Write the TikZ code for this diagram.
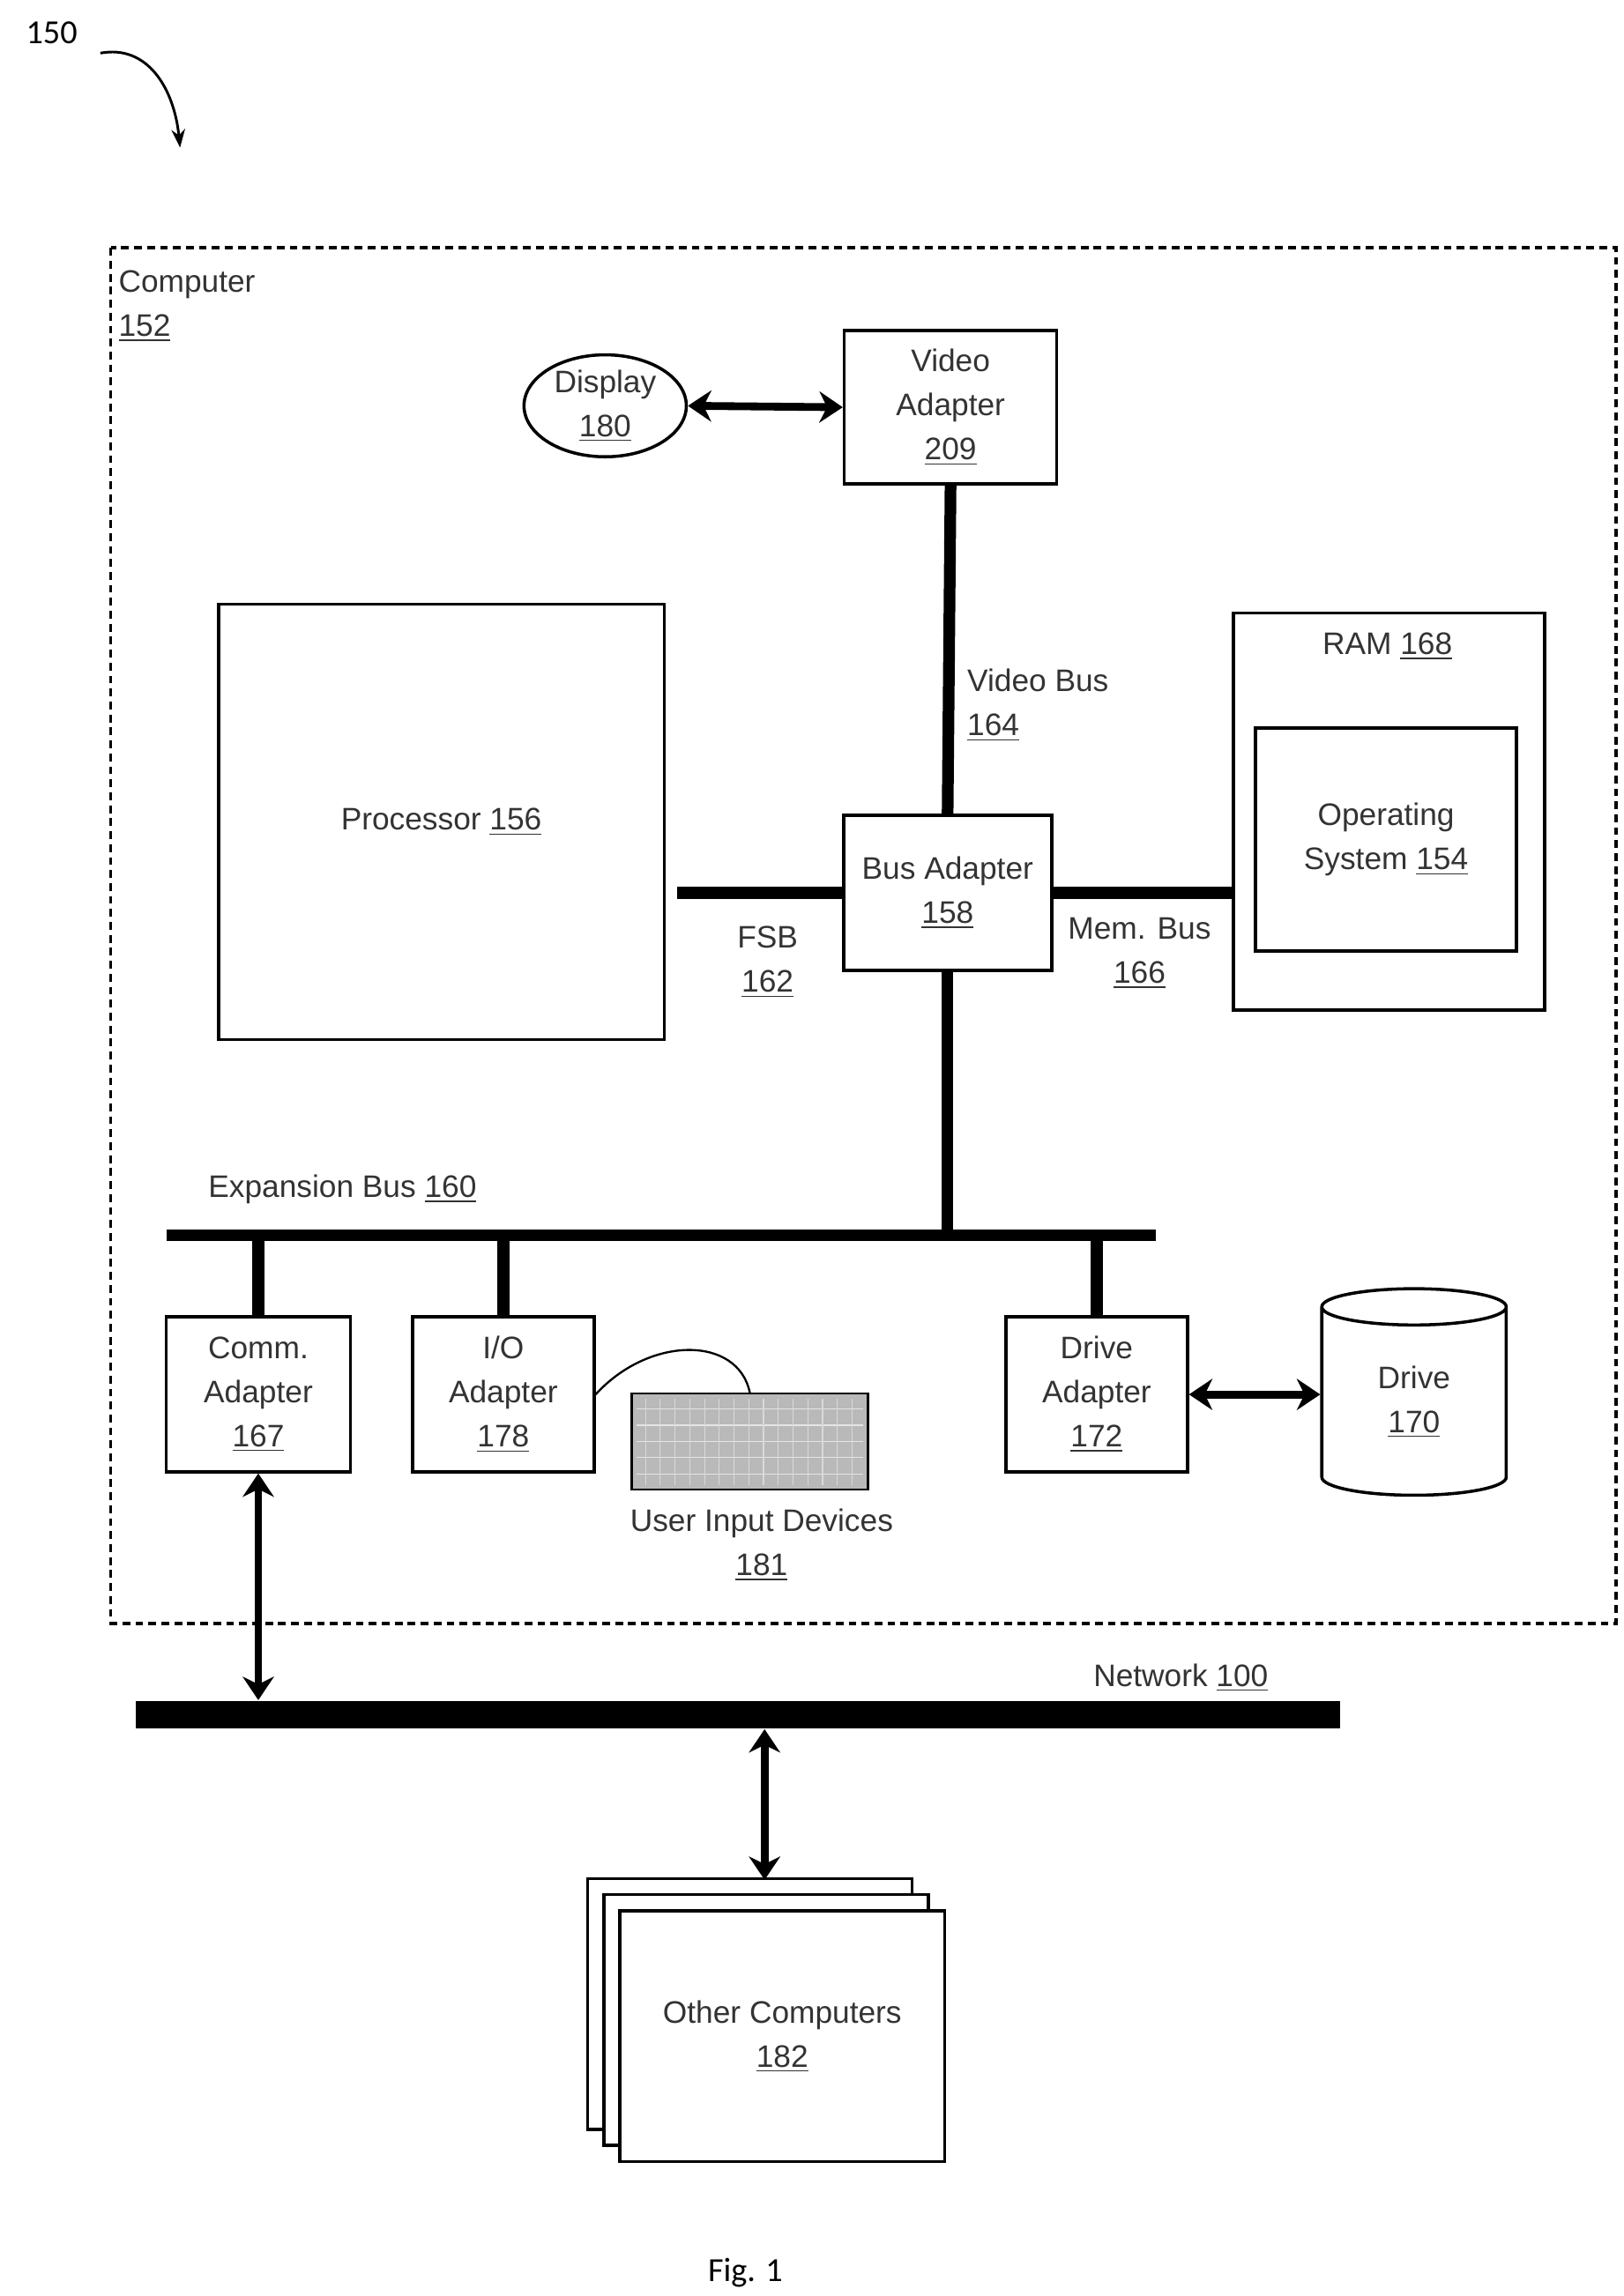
\documentclass[tikz,border=0pt]{standalone}
\usepackage{fontspec}
\setmainfont{Liberation Sans}
\newfontfamily\figfont{Carlito}
\usetikzlibrary{arrows.meta,shapes.geometric,calc}
\tikzset{
    box/.style = {
        draw, line width=1.2pt, align=center, inner sep=0pt,
        },
    bus/.style = {
        line width=4.5pt,
        },
    dbl/.style = {
        line width=3pt, {Stealth[length=9pt,width=12pt]}-{Stealth[length=9pt,width=12pt]},
        },
    lbl/.style = {
        align=center, inner sep=0pt,
        },
    every node/.style = {
        font=\fontsize{12}{17}\selectfont, text=black!80,
        }
}
\begin{document}
\begin{tikzpicture}[x=0.02cm,y=-0.02cm]
            \useasboundingbox (0,0) rectangle (1100,1556);
            % top reference
            \node[lbl, text=black, font=\figfont\fontsize{13}{15}\selectfont] (ref) at (35,22) {150};
            \draw[line width=1pt,-{Stealth[length=7pt]}] (68,36) .. controls (100,30) and (118,60) .. (122,100);

            % computer frame
            \draw[line width=1.3pt, dashed, dash pattern=on 3pt off 2pt] (75,168) rectangle (1095,1100);
            \node[lbl, anchor=north west, align=left] (computer) at (80,183) {Computer\\\underline{152}};

            \node[box, ellipse, minimum width=2.2cm, minimum height=1.35cm] (display) at (410,275) {Display\\\underline{180}};
            \node[box, minimum width=2.88cm, minimum height=2.08cm] (video) at (644,276) {Video\\Adapter\\\underline{209}};
            \node[box, minimum width=6.04cm, minimum height=5.9cm] (proc) at (299,557) {Processor \underline{156}};
            \node[box, minimum width=2.82cm, minimum height=2.1cm] (busad) at (642,605) {Bus Adapter\\\underline{158}};
            \node[box, minimum width=4.22cm, minimum height=5.38cm] (ram) at (941,550) {};
            \node[lbl] (ramlbl) at (940,438) {RAM \underline{168}};
            \node[box, minimum width=3.54cm, minimum height=3.02cm] (os) at (939,569) {Operating\\System \underline{154}};

            \node[box, minimum width=2.5cm, minimum height=2.1cm] (comm) at (175,945) {Comm.\\Adapter\\\underline{167}};
            \node[box, minimum width=2.46cm, minimum height=2.1cm] (io) at (341,945) {I/O\\Adapter\\\underline{178}};
            \node[box, minimum width=2.46cm, minimum height=2.1cm] (drivead) at (743,945) {Drive\\Adapter\\\underline{172}};
            \node[box, cylinder, shape border rotate=90, aspect=0.5, minimum width=2.5cm, minimum height=2.8cm] (drive) at (958,950) {Drive\\\underline{170}};

            % keyboard
            \node[draw, fill=gray!55, line width=0.8pt, minimum width=3.2cm, minimum height=1.3cm, inner sep=0pt] (kbd) at (508,977) {};
            \foreach \i in {1,...,5}
                \draw[gray!20] ($(kbd.north west)+(4,\i*11)$) -- ($(kbd.north east)+(-4,\i*11)$);
            \foreach \j in {1,...,15}
                \draw[gray!30] ($(kbd.north west)+(\j*10,4)$) -- ($(kbd.south west)+(\j*10,-4)$);
            \draw[line width=0.8pt] (io.east) .. controls (440,905) and (500,905) .. (kbd.north);
            \node[lbl] (uid) at (516,1047) {User Input Devices\\\underline{181}};

            % buses
            \coordinate (expL) at (113,837);
            \coordinate (expR) at (783,837);
            \draw[bus] (expL) -- (expR);
            \node[lbl] (explbl) at (232,806) {Expansion Bus \underline{160}};
            \draw[bus] (video.south) -- (busad.north);
            \node[lbl, anchor=west, align=left] (vblbl) at (655,478) {Video Bus\\\underline{164}};
            \draw[bus] (proc.east |- busad.west) ++(8,0) -- (busad.west);
            \node[lbl] (fsblbl) at (520,652) {FSB\\\underline{162}};
            \draw[bus] (busad.east) -- (busad.east -| ram.west);
            \node[lbl] (mblbl) at (772,646) {Mem. Bus\\\underline{166}};
            \draw[bus] (busad.south) -- (busad.south |- expL);
            \draw[bus] (comm.north) -- (comm.north |- expL);
            \draw[bus] (io.north) -- (io.north |- expL);
            \draw[bus] (drivead.north) -- (drivead.north |- expL);

            \draw[dbl] (display.east) -- (video.west);
            \draw[dbl] (drivead.east) -- (drivead.east -| drive.west);

            % network
            \node[fill=black, minimum width=16.32cm, minimum height=0.38cm, inner sep=0pt] (net) at (500,1162) {};
            \node[lbl] (netlbl) at (800,1137) {Network \underline{100}};
            \draw[dbl] (comm.south) -- (comm.south |- net.north);

            % other computers
            \node[box, fill=white, minimum width=4.4cm, minimum height=3.4cm] (oc3) at (508,1358) {};
            \node[box, fill=white, minimum width=4.4cm, minimum height=3.4cm] (oc2) at (519,1369) {};
            \node[box, fill=white, minimum width=4.4cm, minimum height=3.4cm] (oc1) at (530,1380) {Other Computers\\\underline{182}};
            \coordinate (ocTop) at (518,1274);
            \draw[dbl] (net.south -| ocTop) -- (ocTop);

            \node[lbl, text=black, font=\figfont\fontsize{13}{15}\selectfont] (fig) at (505,1540) {Fig. 1};
\end{tikzpicture}
\end{document}
